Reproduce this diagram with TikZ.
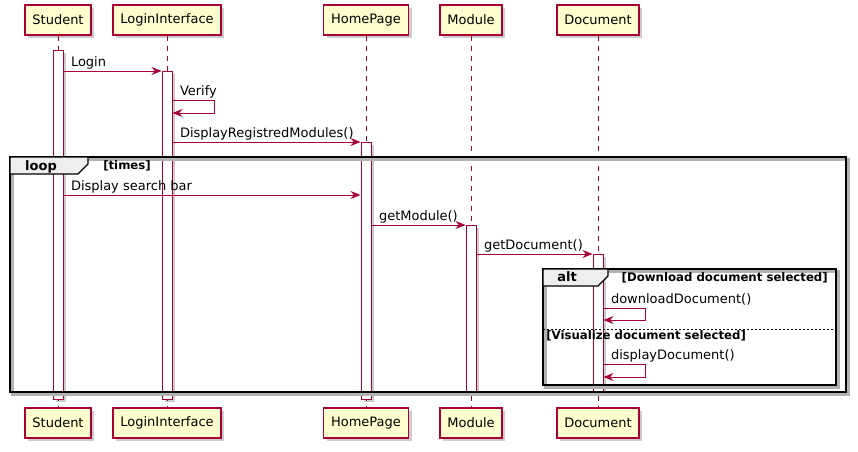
\documentclass[tikz,border=0pt]{standalone}
\usepackage{fontspec}
\setmainfont{DejaVu Sans}
\usetikzlibrary{arrows.meta,shadows,fit}

\definecolor{umlred}{HTML}{A80036}
\definecolor{umlbox}{HTML}{FEFECE}
\definecolor{tabgray}{HTML}{EEEEEE}

\begin{document}
\begin{tikzpicture}[x=0.75pt, y=-0.75pt, font=\fontsize{9.75}{11}\selectfont]

\tikzstyle{actor} = [rectangle, draw=umlred, fill=umlbox, line width=1pt, minimum height=22.5pt, inner xsep=5.5pt, drop shadow={shadow xshift=2.5pt, shadow yshift=-2.5pt, fill=black, opacity=0.2}]
\tikzstyle{life} = [umlred, line width=0.75pt, dash pattern=on 3.75pt off 3.75pt]
\tikzstyle{bar} = [rectangle, draw=umlred, fill=white, line width=0.75pt, inner sep=0pt, drop shadow={shadow xshift=2pt, shadow yshift=-2pt, fill=black, opacity=0.2}]
\tikzstyle{msg} = [umlred, line width=0.75pt, -{Stealth[length=7.5pt, width=6pt, inset=2.5pt]}]
\tikzstyle{lbl} = [pos=0, anchor=base west, xshift=5.25pt, yshift=3.5pt, text=black, inner sep=0pt]
\tikzstyle{frame} = [draw=black, line width=1.5pt, preaction={draw=black!30, line width=2pt, transform canvas={shift={(2pt,-2pt)}}}]
\tikzstyle{tab} = [fill=tabgray, draw=black, line width=1pt]
\tikzstyle{ftitle} = [font=\fontsize{9.75}{11}\selectfont\bfseries, inner sep=0pt, anchor=base]
\tikzstyle{guard} = [font=\fontsize{8.8}{10}\selectfont\bfseries, inner sep=0pt]

\useasboundingbox (0,0) rectangle (858,451);

% participants
\node[actor] (sT) at (58,20) {Student};
\node[actor] (lT) at (167,20) {LoginInterface};
\node[actor] (hT) at (366,20) {HomePage};
\node[actor] (mT) at (471,20) {Module};
\node[actor] (dT) at (598,20) {Document};

\node[actor] (sB) at (58,423) {Student};
\node[actor] (lB) at (167,423) {LoginInterface};
\node[actor] (hB) at (366,423) {HomePage};
\node[actor] (mB) at (471,423) {Module};
\node[actor] (dB) at (598,423) {Document};

\draw[life] (sT) -- (sB);
\draw[life] (lT) -- (lB);
\draw[life] (hT) -- (hB);
\draw[life] (mT) -- (mB);
\draw[life] (dT) -- (dB);

% activations
\node[bar, fit={(53,50) (63,399)}] (aS) {};
\node[bar, fit={(162,71) (172,399)}] (aL) {};
\node[bar, fit={(361,142) (371,399)}] (aH) {};
\node[bar, fit={(466,225) (476,392)}] (aM) {};
\node[bar, fit={(593,254) (603,392)}] (aD) {};

% message heights
\coordinate (y1) at (0,71);
\coordinate (y2) at (0,100);
\coordinate (y2b) at (0,113);
\coordinate (y3) at (0,142);
\coordinate (y4) at (0,195);
\coordinate (y5) at (0,225);
\coordinate (y6) at (0,254);
\coordinate (y7) at (0,308);
\coordinate (y7b) at (0,320);
\coordinate (y8) at (0,364);
\coordinate (y8b) at (0,377);

\draw[msg] (aS.east |- y1) -- node[lbl] {Login} (aL.west |- y1);
\draw[msg] (aL.east |- y2) -- node[lbl] {Verify} ++(42,0) |- (aL.east |- y2b);
\draw[msg] (aL.east |- y3) -- node[lbl] {DisplayRegistredModules()} (aH.west |- y3);
\draw[msg] (aS.east |- y4) -- node[lbl] {Display search bar} (aH.west |- y4);
\draw[msg] (aH.east |- y5) -- node[lbl] {getModule()} (aM.west |- y5);
\draw[msg] (aM.east |- y6) -- node[lbl] {getDocument()} (aD.west |- y6);
\draw[msg] (aD.east |- y7) -- node[lbl] {downloadDocument()} ++(42,0) |- (aD.east |- y7b);
\draw[msg] (aD.east |- y8) -- node[lbl] {displayDocument()} ++(42,0) |- (aD.east |- y8b);

% loop
\draw[frame] (10,157) rectangle (846,392);
\draw[tab] (10,157) -- (88,157) -- (88,164) -- (78,174) -- (10,174) -- cycle;
\node[ftitle] (lp) at (41,170) {loop};
\node[guard, anchor=base west] (lg) at (103,169) {[times]};

% alt
\draw[frame] (543,269) rectangle (836,385);
\draw[tab] (543,269) -- (608,269) -- (608,276) -- (598,286) -- (543,286) -- cycle;
\node[ftitle] (al) at (567,281) {alt};
\node[guard, anchor=base east] (ag1) at (828,281) {[Download document selected]};
\draw[line width=0.75pt, dash pattern=on 1.5pt off 1.5pt] (543,329) -- (836,329);
\node[guard, anchor=base west] (ag2) at (546,339) {[Visualize document selected]};

\end{tikzpicture}
\end{document}
